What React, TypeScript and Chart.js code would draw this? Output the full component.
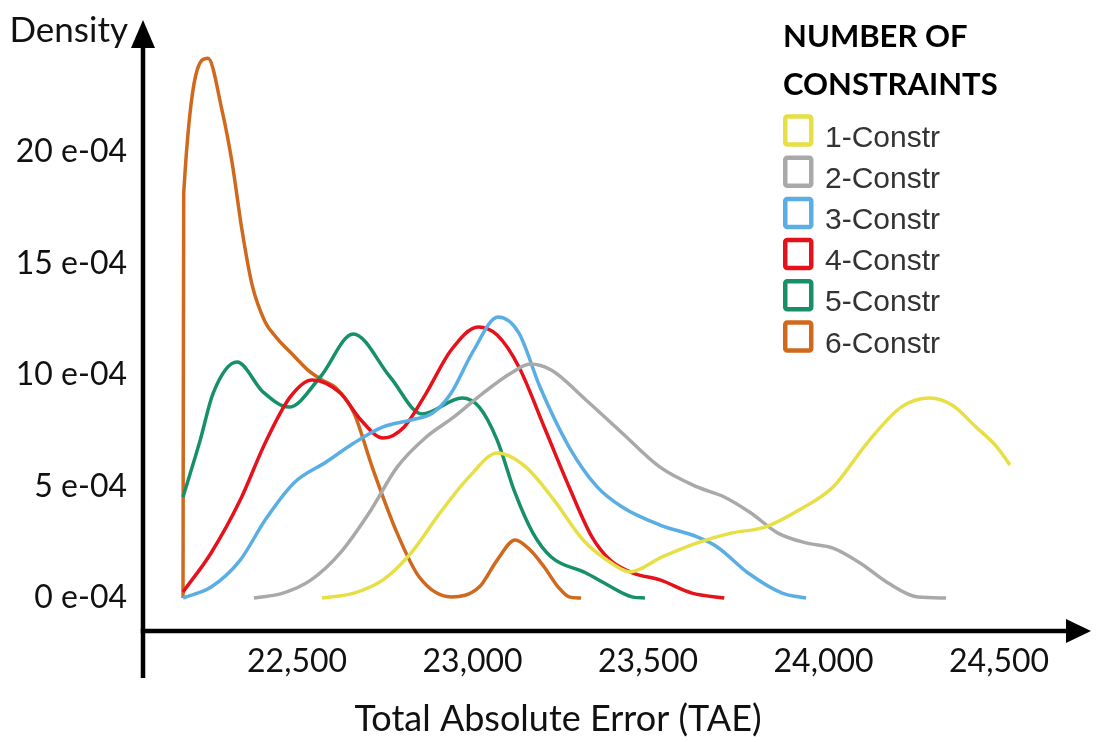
import React, { useEffect, useRef } from "react";
import { Chart, registerables } from "chart.js";

Chart.register(...registerables);

// ---- data (x: Total Absolute Error, y: density in units of 1e-04) ----
const seriesLabels = ["1-Constr", "2-Constr", "3-Constr", "4-Constr", "5-Constr", "6-Constr"];
const seriesColors = ["#e6df45", "#a9a9a9", "#5aaee3", "#e5121c", "#17906a", "#d0691d"];

const c1X = [22571, 22662, 22745, 22825, 22907, 22990, 23070, 23152, 23232, 23315, 23395, 23449, 23540, 23640, 23736, 23833, 23930, 24027, 24124, 24221, 24303, 24366, 24434, 24494, 24531];
const c1Y = [0, 0.22, 0.81, 2.02, 3.81, 5.43, 6.5, 5.87, 4.39, 2.6, 1.57, 1.17, 1.84, 2.47, 2.91, 3.18, 3.95, 4.98, 6.95, 8.56, 8.97, 8.65, 7.67, 6.77, 5.96];

const c2X = [22377, 22460, 22540, 22623, 22705, 22785, 22868, 22947, 23030, 23110, 23164, 23224, 23323, 23426, 23534, 23640, 23717, 23793, 23870, 23950, 24027, 24104, 24184, 24269, 24349];
const c2Y = [0, 0.22, 0.81, 2.02, 3.81, 5.87, 7.22, 8.12, 9.19, 10.09, 10.49, 10.22, 8.88, 7.4, 5.87, 4.98, 4.53, 3.81, 2.91, 2.47, 2.24, 1.57, 0.67, 0.04, 0];

const c3X = [22175, 22255, 22338, 22409, 22491, 22583, 22662, 22745, 22825, 22887, 22939, 22999, 23073, 23132, 23192, 23275, 23355, 23426, 23534, 23640, 23697, 23785, 23882, 23950];
const c3Y = [0, 0.49, 1.7, 3.5, 5.16, 6.1, 6.95, 7.67, 7.98, 8.3, 9.19, 10.99, 12.6, 11.88, 9.46, 6.77, 4.98, 4.08, 3.27, 2.74, 2.29, 1.12, 0.22, 0];

const c4X = [22175, 22255, 22338, 22409, 22480, 22543, 22623, 22682, 22745, 22805, 22868, 22939, 23016, 23070, 23132, 23204, 23275, 23340, 23392, 23457, 23534, 23625, 23717];
const c4Y = [0.27, 2.02, 4.39, 6.95, 9.01, 9.78, 9.19, 7.98, 7.17, 7.67, 9.19, 11.12, 12.15, 11.79, 10.36, 7.67, 4.98, 2.74, 1.7, 1.12, 0.81, 0.22, 0];

const c5X = [22175, 22224, 22261, 22329, 22403, 22477, 22566, 22660, 22765, 22856, 22970, 23019, 23070, 23121, 23172, 23224, 23323, 23375, 23457, 23491];
const c5Y = [4.53, 7.08, 9.19, 10.58, 9.24, 8.56, 9.91, 11.84, 9.91, 8.25, 8.97, 8.56, 7.08, 4.71, 2.91, 1.84, 1.12, 0.67, 0.04, 0];

const c6X = [22175, 22177, 22246, 22286, 22315, 22343, 22372, 22409, 22440, 22494, 22531, 22571, 22611, 22662, 22714, 22785, 22848, 22939, 23019, 23070, 23121, 23164, 23204, 23244, 23275, 23309];
const c6Y = [0, 18.16, 24.21, 21.88, 19.51, 16.5, 14.03, 12.38, 11.7, 10.81, 10.22, 9.78, 9.42, 8.3, 5.87, 2.91, 0.94, 0.05, 0.49, 1.7, 2.6, 2.15, 1.39, 0.49, 0.05, 0];

const seriesX = [c1X, c2X, c3X, c4X, c5X, c6X];
const seriesY = [c1Y, c2Y, c3Y, c4Y, c5Y, c6Y];

const xTickValues = [22500, 23000, 23500, 24000, 24500];
const yTickValues = [0, 5, 10, 15, 20];
const legendTitle = ["NUMBER OF", "CONSTRAINTS"];
const xTitle = "Total Absolute Error (TAE)";
const yTitle = "Density";

const axesPlugin = {
  id: "axesArrows",
  afterDraw(chart: any) {
    const { ctx, chartArea } = chart;
    const x0 = chartArea.left;
    const y0 = chartArea.bottom;
    ctx.save();
    ctx.strokeStyle = "#000";
    ctx.fillStyle = "#000";
    ctx.lineWidth = 4.5;
    ctx.lineCap = "butt";
    // y axis
    ctx.beginPath();
    ctx.moveTo(x0, y0 + 47);
    ctx.lineTo(x0, chartArea.top + 24);
    ctx.stroke();
    ctx.beginPath();
    ctx.moveTo(x0, chartArea.top - 2);
    ctx.lineTo(x0 - 12, chartArea.top + 26);
    ctx.lineTo(x0 + 12, chartArea.top + 26);
    ctx.closePath();
    ctx.fill();
    // x axis
    ctx.beginPath();
    ctx.moveTo(x0 - 2.25, y0);
    ctx.lineTo(chartArea.right - 22, y0);
    ctx.stroke();
    ctx.beginPath();
    ctx.moveTo(chartArea.right + 1, y0);
    ctx.lineTo(chartArea.right - 24, y0 - 12);
    ctx.lineTo(chartArea.right - 24, y0 + 12);
    ctx.closePath();
    ctx.fill();
    // axis titles
    ctx.fillStyle = "#111";
    ctx.textBaseline = "alphabetic";
    ctx.font = "35px Lato";
    ctx.textAlign = "right";
    ctx.fillText(yTitle, x0 - 15, 42);
    ctx.font = "36px Lato";
    ctx.textAlign = "center";
    ctx.fillText(xTitle, 558, 731);
    ctx.restore();
  },
};

const legendPlugin = {
  id: "boxLegend",
  afterDraw(chart: any) {
    const ctx = chart.ctx;
    const left = 783;
    ctx.save();
    ctx.textAlign = "left";
    ctx.textBaseline = "alphabetic";
    ctx.fillStyle = "#000";
    ctx.font = "bold 31px Lato";
    legendTitle.forEach((t, i) => ctx.fillText(t, left, 47 + i * 48));
    chart.data.datasets.forEach((ds: any, i: number) => {
      const cy = 130.5 + i * 41.2;
      ctx.strokeStyle = ds.borderColor;
      ctx.lineWidth = 4.5;
      ctx.beginPath();
      if (ctx.roundRect) ctx.roundRect(left + 2.25, cy - 14, 26, 28, 2);
      else ctx.rect(left + 2.25, cy - 14, 26, 28);
      ctx.stroke();
      ctx.fillStyle = "#333";
      ctx.font = '30px "Liberation Sans", Arial, sans-serif';
      ctx.fillText(ds.label, 825, cy + 16);
    });
    ctx.restore();
  },
};

export default function App() {
  const canvasRef = useRef<HTMLCanvasElement | null>(null);

  useEffect(() => {
    if (!canvasRef.current) return;
    const datasets = seriesLabels.map((label, i) => ({
      label,
      data: seriesX[i].map((x, j) => ({ x, y: seriesY[i][j] })),
      borderColor: seriesColors[i],
      backgroundColor: seriesColors[i],
      borderWidth: 3.5,
      borderJoinStyle: "round" as const,
      pointRadius: 0,
      fill: false,
      cubicInterpolationMode: "monotone" as const,
    }));
    const chart = new Chart(canvasRef.current, {
      type: "line",
      data: { datasets },
      options: {
        animation: false,
        responsive: true,
        maintainAspectRatio: false,
        devicePixelRatio: 1,
        layout: { padding: { top: 22, right: 8, left: 0, bottom: 0 } },
        plugins: {
          legend: { display: false },
          tooltip: { enabled: false },
          title: { display: false },
        },
        scales: {
          x: {
            type: "linear",
            min: 22061,
            max: 24759,
            grid: { display: false },
            border: { display: false },
            afterBuildTicks: (scale: any) => {
              scale.ticks = xTickValues.map((value) => ({ value }));
            },
            afterFit: (scale: any) => {
              scale.height = 111;
              scale.paddingLeft = 0;
              scale.paddingRight = 0;
            },
            ticks: {
              autoSkip: false,
              maxRotation: 0,
              padding: 3,
              color: "#111",
              font: { family: "Lato", size: 32 },
              callback: (v: any) => Number(v).toLocaleString("en-US"),
            },
          },
          y: {
            type: "linear",
            min: -1.48,
            max: 25.83,
            grid: { display: false },
            border: { display: false },
            afterBuildTicks: (scale: any) => {
              scale.ticks = yTickValues.map((value) => ({ value }));
            },
            afterFit: (scale: any) => {
              scale.width = 143;
              scale.paddingTop = 0;
              scale.paddingBottom = 0;
            },
            ticks: {
              padding: 8,
              color: "#111",
              font: { family: "Lato", size: 32 },
              callback: (v: any) => `${v} e-04`,
            },
          },
        },
      },
      plugins: [axesPlugin, legendPlugin],
    });
    return () => chart.destroy();
  }, []);

  return (
    <div style={{ position: "fixed", left: 0, top: 0, width: 1098, height: 742, background: "#fff" }}>
      <canvas ref={canvasRef} />
    </div>
  );
}
